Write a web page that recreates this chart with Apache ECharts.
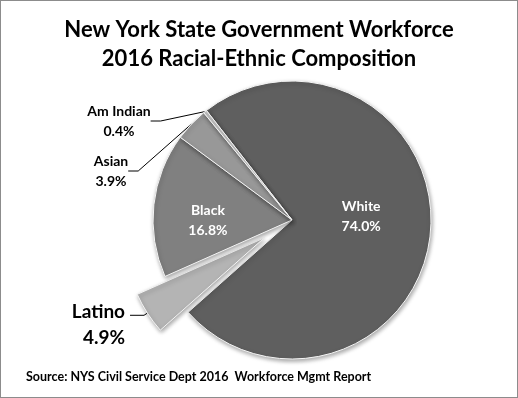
<!DOCTYPE html>
<html>
<head>
<meta charset="utf-8">
<script src="https://cdn.jsdelivr.net/npm/echarts@6/dist/echarts.min.js"></script>
<style>
  html, body { margin: 0; padding: 0; background: #fff; }
  #chart { width: 516px; height: 396px; border: 1px solid #8c8c8c; }
</style>
</head>
<body>
<div id="chart"></div>
<script>
// slices in clockwise order, starting at the White/Am Indian boundary
const groups = ['White', 'Latino', 'Black', 'Asian', 'Am Indian']
const shares = [74.0, 4.9, 16.8, 3.9, 0.4]
const colors = ['#5f5f5f', '#b4b4b4', '#808080', '#989898', '#c4c4c4']

// label placement (outside ones absolute, inside ones nudged)
// Latino is exploded, its label follows the leader line instead
const labelSpots = {
  'Am Indian': { x: 118, y: 100 },
  'Asian': { x: 110, y: 150 },
  'White': { dx: -3, dy: -10 },
  'Black': { dx: -12, dy: 8 }
}

const chart = echarts.init(document.getElementById('chart'))

const pieData = groups.map((name, i) => {
  const item = {
    name: name,
    value: shares[i],
    itemStyle: { color: colors[i] }
  }
  if (name === 'White' || name === 'Black') {
    item.label = {
      position: 'inside',
      color: '#fff',
      fontSize: 14,
      lineHeight: 20
    }
    item.labelLine = { show: false }
  } else if (name === 'Latino') {
    item.selected = true
    item.label = {
      fontSize: 19,
      lineHeight: 26,
      // empty spacer line on top so the leader meets the first text line
      formatter: p => '{s|}\n' + p.name + '\n' + p.value.toFixed(1) + '%',
      rich: { s: { height: 20, lineHeight: 20 } }
    }
    item.labelLine = { length: 4, length2: 14 }
  }
  return item
})

chart.setOption({
  animation: false,
  textStyle: { fontFamily: 'Lato' },
  title: {
    text: 'New York State Government Workforce\n2016 Racial-Ethnic Composition',
    left: 'center',
    top: 9,
    textStyle: {
      fontFamily: 'Lato',
      fontWeight: 'bold',
      fontSize: 22,
      lineHeight: 29,
      color: '#000'
    }
  },
  graphic: [{
    type: 'text',
    left: 25,
    top: 369,
    style: {
      text: 'Source: NYS Civil Service Dept 2016  Workforce Mgmt Report',
      font: 'bold 12.5px Lato',
      fill: '#000'
    }
  }],
  series: [{
    type: 'pie',
    center: [291, 219],
    radius: 139,
    startAngle: 128,
    clockwise: true,
    avoidLabelOverlap: false,
    selectedMode: 'single',
    selectedOffset: 33,
    emphasis: { disabled: true },
    itemStyle: {
      borderColor: '#f4f4f4',
      borderWidth: 1,
      shadowBlur: 4,
      shadowOffsetX: 1,
      shadowOffsetY: 2,
      shadowColor: 'rgba(0,0,0,0.35)'
    },
    label: {
      show: true,
      position: 'outside',
      fontWeight: 'bold',
      fontSize: 14,
      lineHeight: 20,
      align: 'center',
      color: '#000',
      formatter: p => p.name + '\n' + p.value.toFixed(1) + '%'
    },
    labelLine: {
      show: true,
      length: 10,
      length2: 10,
      lineStyle: { color: '#000', width: 1 }
    },
    labelLayout: params => {
      const spot = labelSpots[groups[params.dataIndex]]
      if (!spot) return {}
      if (spot.x !== undefined) {
        return { x: spot.x, y: spot.y, align: 'center', verticalAlign: 'top' }
      }
      return { dx: spot.dx, dy: spot.dy }
    },
    data: pieData
  }]
})
</script>
</body>
</html>
